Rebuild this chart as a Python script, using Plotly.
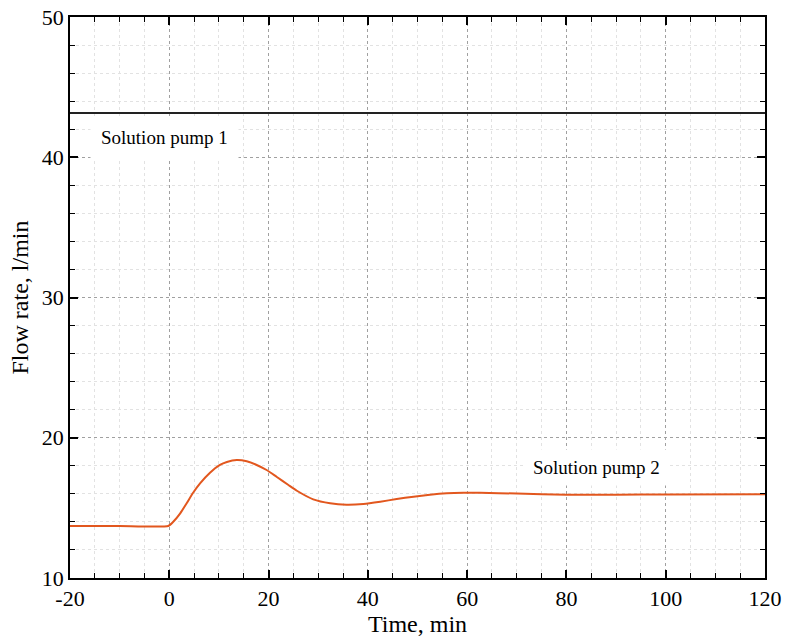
import plotly.graph_objects as go

# Time axis (min) and flow rates (l/min)
pump1_time = [-20, 120]
pump1_flow = [43.15, 43.15]

pump2_time = [-20, -10, -0.2, 0.8, 2.2, 3.5, 4.8, 6.2, 8.2, 10.2, 11.6, 13.6,
              15.6, 17.6, 19.6, 21.6, 24.0, 25.7, 29.0, 32.4, 35.7, 39.1, 42.5,
              45.8, 49.2, 52.5, 55.9, 59.2, 62.6, 70, 80, 90, 100, 120]
pump2_flow = [13.71, 13.71, 13.71, 14.01, 14.61, 15.33, 16.08, 16.75, 17.51,
              18.06, 18.27, 18.41, 18.32, 18.06, 17.70, 17.22, 16.63, 16.22,
              15.61, 15.33, 15.23, 15.28, 15.44, 15.63, 15.80, 15.94, 16.04,
              16.08, 16.08, 16.02, 15.93, 15.94, 15.96, 15.97]

x_ticks = [-20, 0, 20, 40, 60, 80, 100, 120]
y_ticks = [10, 20, 30, 40, 50]

FONT = "Liberation Serif"

fig = go.Figure()
fig.add_trace(go.Scatter(x=pump1_time, y=pump1_flow, mode="lines",
                         line=dict(color="#222222", width=2), showlegend=False))
fig.add_trace(go.Scatter(x=pump2_time, y=pump2_flow, mode="lines",
                         line=dict(color="#E2571E", width=2, shape="spline", smoothing=0.5),
                         showlegend=False))

axis_common = dict(
    showline=True, linecolor="black", linewidth=1.5, mirror="allticks",
    ticks="inside", ticklen=8, tickwidth=1.5, tickcolor="black",
    showgrid=True, gridcolor="#a0a0a0", gridwidth=1, griddash="dot",
    zeroline=False,
    tickfont=dict(family=FONT, size=22, color="black"),
)

minor_common = dict(ticks="inside", ticklen=5, tickcolor="black", tickwidth=1,
                    showgrid=True, gridcolor="#e2e2e2", griddash="dot", gridwidth=1)

fig.update_xaxes(
    **axis_common, range=[-20, 120], tickmode="array", tickvals=x_ticks,
    ticktext=[str(v) for v in x_ticks],
    minor=dict(dtick=5, **minor_common),
    title=dict(text="Time, min", font=dict(family=FONT, size=24, color="black"), standoff=4),
)
fig.update_yaxes(
    **axis_common, range=[10, 50], tickmode="array", tickvals=y_ticks,
    minor=dict(dtick=2, **minor_common),
    title=dict(text="Flow rate, l/min", font=dict(family=FONT, size=24, color="black"), standoff=6),
)

fig.add_annotation(x=-1.0, y=41.4, text="Solution pump 1", showarrow=False,
                   font=dict(family=FONT, size=19, color="black"),
                   bgcolor="white", borderpad=10)
fig.add_annotation(x=86, y=17.85, text="Solution pump 2", showarrow=False,
                   font=dict(family=FONT, size=19, color="black"),
                   bgcolor="white", borderpad=7)

fig.update_layout(
    width=785, height=639,
    margin=dict(l=70, r=20, t=17, b=61, autoexpand=False),
    paper_bgcolor="white", plot_bgcolor="white",
)

fig.write_html("out.html")
